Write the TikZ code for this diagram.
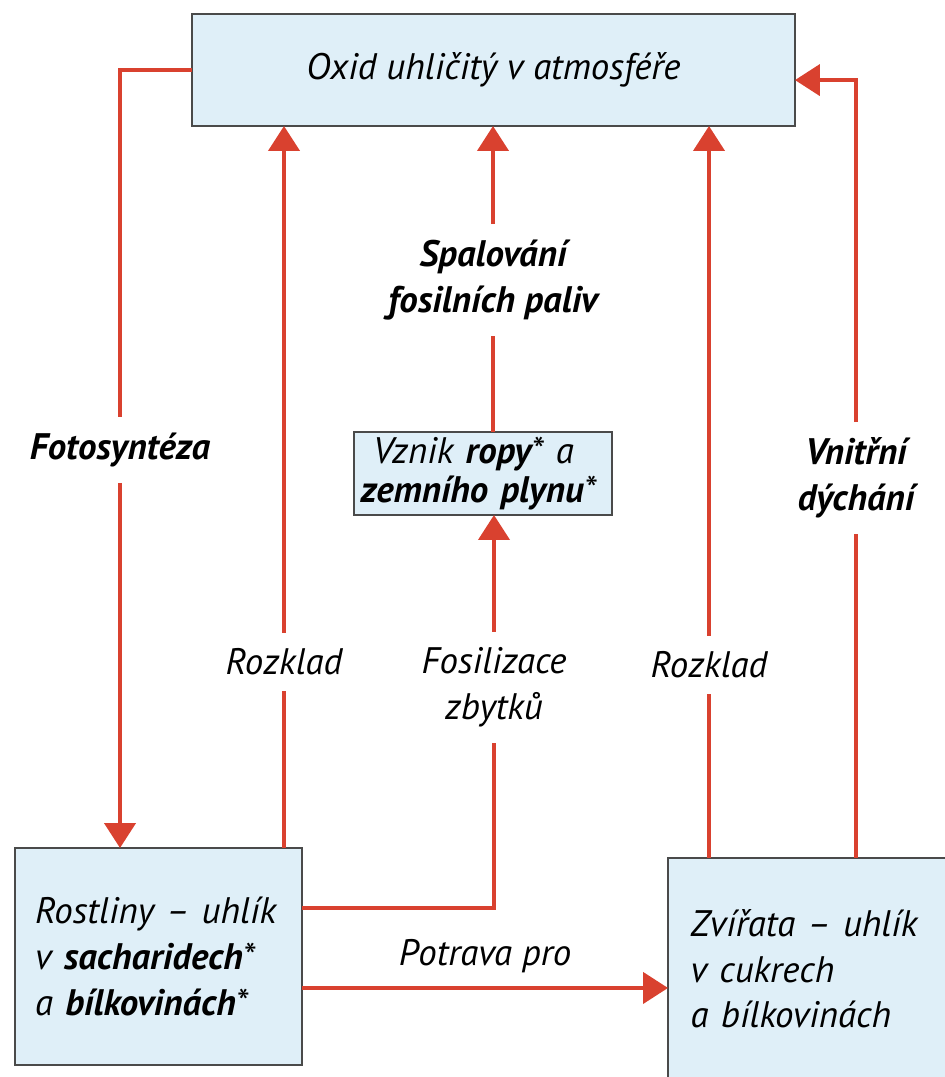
\documentclass[tikz,border=0pt]{standalone}
\usepackage{fontspec}
\setmainfont{PT Sans}
\usetikzlibrary{arrows.meta,positioning,calc}
\definecolor{ccBox}{HTML}{DFEFF8}
\definecolor{ccLine}{HTML}{4A4A4A}
\definecolor{ccArrow}{HTML}{D9412F}
\tikzset{
  cc/.style={font=\fontsize{21}{26}\selectfont\itshape, x=0.02cm, y=-0.02cm},
  box/.style={draw=ccLine, fill=ccBox, line width=1pt, inner sep=0pt, outer sep=0pt},
  flow/.style={draw=ccArrow, line width=2.4pt},
  arr/.style={flow, -{Triangle[length=5mm, width=6.2mm]}},
  lbl/.style={align=center, inner sep=0pt, outer xsep=0pt, outer ysep=9pt},
  hd/.style={lbl, font=\fontsize{21}{26}\selectfont\bfseries\itshape},
}

\begin{document}
\begin{tikzpicture}[cc]
\useasboundingbox (0,0) rectangle (944,1077);
\node[box, minimum width=12.06cm, minimum height=2.24cm] (atm) at (493.5,70) {Oxid uhličitý v atmosféře};
\node[box, minimum width=5.74cm, minimum height=4.34cm, text width=4.94cm, inner xsep=0.4cm, align=left] (rost) at (158.5,956.5)
  {Rostliny – uhlík\\v \textbf{sacharidech}*\\a \textbf{bílkovinách}*};
\node[box, minimum width=5.84cm, minimum height=4.44cm, text width=4.94cm, inner xsep=0.45cm, align=left] (zvi) at (814,969)
  {Zvířata – uhlík\\v cukrech\\a bílkovinách};
\node[box, minimum width=5.16cm, minimum height=1.66cm, text width=4.9cm, inner xsep=0.13cm, align=left,
  font=\fontsize{21}{22}\selectfont\itshape] (vz) at (483,473.5)
  {\hspace*{0.25cm}Vznik \textbf{ropy}* a\\\textbf{zemního plynu}*};

\node[hd] (foto) at (120,450) {Fotosyntéza};
\node[lbl] (rz1) at (284,662) {Rozklad};
\node[lbl] (fos) at (494,687) {Fosilizace\\zbytků};
\node[hd] (spal) at (493,280) {Spalování\\fosilních paliv};
\node[lbl] (rz2) at (709,665) {Rozklad};
\node[hd] (vd) at (856,478) {Vnitřní\\dýchání};

\coordinate (fs) at ($(rost.north east)!0.276!(rost.south east)$);
\coordinate (pp) at ($(rost.north east)!0.645!(rost.south east)$);
\coordinate (ve) at ($(atm.north east)!0.59!(atm.south east)$);

\draw[flow] (atm.west) -| (foto.north);
\draw[arr] (foto.south) -- (foto.south |- rost.north);
\draw[flow] (rz1 |- rost.north) -- (rz1.south);
\draw[arr] (rz1.north) -- (rz1.north |- atm.south);
\draw[flow] (fs) -| (fos.south);
\draw[arr] (fos.north) -- (fos.north |- vz.south);
\draw[flow] (spal |- vz.north) -- (spal.south);
\draw[arr] (spal.north) -- (spal.north |- atm.south);
\draw[flow] (rz2 |- zvi.north) -- (rz2.south);
\draw[arr] (rz2.north) -- (rz2.north |- atm.south);
\draw[flow] (vd |- zvi.north) -- (vd.south);
\draw[arr] (vd.north) |- (ve);
\draw[arr] (pp) -- node[lbl, outer ysep=0pt, above=0.3cm] (pot) {Potrava pro} (pp -| zvi.west);
\end{tikzpicture}
\end{document}
